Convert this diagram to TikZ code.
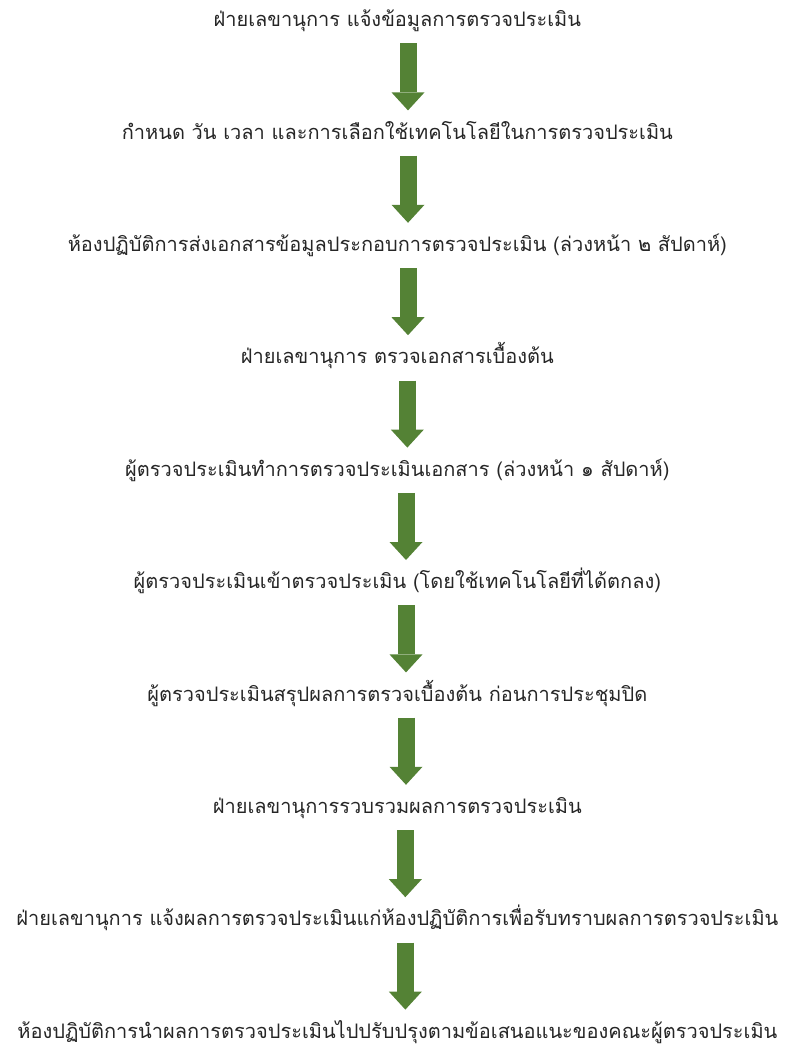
\documentclass[tikz,border=0pt]{standalone}
\usepackage{fontspec}
\newfontfamily\thaifont[Script=Thai]{Loma}
\usepackage{tikz}
\usetikzlibrary{arrows.meta}
\definecolor{flowgreen}{HTML}{548235}
\definecolor{steptext}{HTML}{262626}

\begin{document}
\begin{tikzpicture}[node distance=84.3pt,
                    flow/.style={color=flowgreen,line width=12.75pt,
                      shorten <=17pt,shorten >=17pt,
                      -{Triangle[width=24.75pt,length=13.5pt,line width=0pt]}}]
	\tikzstyle{every node}=[font=\thaifont\fontsize{15}{18}\selectfont,text=steptext,
	                        inner sep=0pt,text height=12pt,text depth=3pt]

	\useasboundingbox (0,0) rectangle (591.75pt,-786pt);

	\node (s1)	at (298pt,-15.5pt)	{ฝ่ายเลขานุการ แจ้งข้อมูลการตรวจประเมิน};
	\node (s2)	[below of=s1]	{กำหนด วัน เวลา และการเลือกใช้เทคโนโลยีในการตรวจประเมิน};
	\node (s3)	[below of=s2]	{ห้องปฏิบัติการส่งเอกสารข้อมูลประกอบการตรวจประเมิน (ล่วงหน้า ๒ สัปดาห์)};
	\node (s4)	[below of=s3]	{ฝ่ายเลขานุการ ตรวจเอกสารเบื้องต้น};
	\node (s5)	[below of=s4]	{ผู้ตรวจประเมินทำการตรวจประเมินเอกสาร (ล่วงหน้า ๑ สัปดาห์)};
	\node (s6)	[below of=s5]	{ผู้ตรวจประเมินเข้าตรวจประเมิน (โดยใช้เทคโนโลยีที่ได้ตกลง)};
	\node (s7)	[below of=s6]	{ผู้ตรวจประเมินสรุปผลการตรวจเบื้องต้น ก่อนการประชุมปิด};
	\node (s8)	[below of=s7]	{ฝ่ายเลขานุการรวบรวมผลการตรวจประเมิน};
	\node (s9)	[below of=s8]	{ฝ่ายเลขานุการ แจ้งผลการตรวจประเมินแก่ห้องปฏิบัติการเพื่อรับทราบผลการตรวจประเมิน};
	\node (s10)	[below of=s9]	{ห้องปฏิบัติการนำผลการตรวจประเมินไปปรับปรุงตามข้อเสนอแนะของคณะผู้ตรวจประเมิน};

	% arrows sit a little right of the text centre
	\path ([xshift=8pt]s1.center)	edge[flow]	([xshift=8pt]s2.center)
		([xshift=8pt]s2.center)	edge[flow]	([xshift=8pt]s3.center)
		([xshift=8pt]s3.center)	edge[flow]	([xshift=8pt]s4.center)
		([xshift=7.5pt]s4.center)	edge[flow]	([xshift=7.5pt]s5.center)
		([xshift=6.5pt]s5.center)	edge[flow]	([xshift=6.5pt]s6.center)
		([xshift=6.5pt]s6.center)	edge[flow]	([xshift=6.5pt]s7.center)
		([xshift=6.5pt]s7.center)	edge[flow]	([xshift=6.5pt]s8.center)
		([xshift=6pt]s8.center)	edge[flow]	([xshift=6pt]s9.center)
		([xshift=6pt]s9.center)	edge[flow]	([xshift=6pt]s10.center);
\end{tikzpicture}
\end{document}
